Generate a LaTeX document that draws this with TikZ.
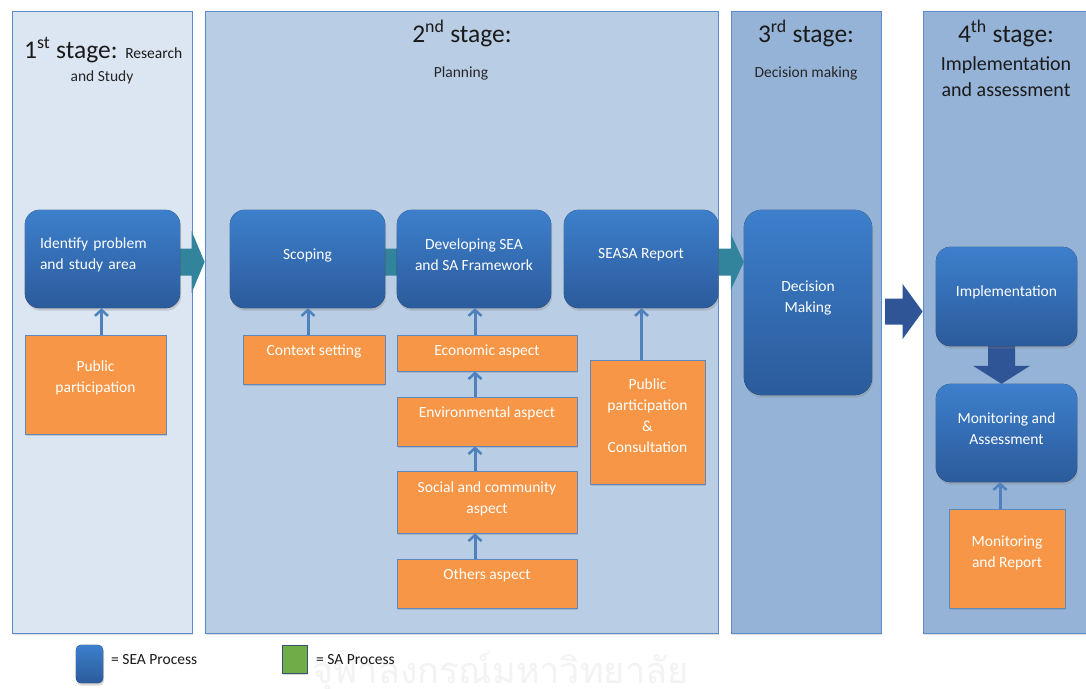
\documentclass[tikz,border=0pt]{standalone}
\usepackage{fontspec}
\setmainfont{Carlito}
\newfontfamily\thaifont[Script=Thai]{Loma}
\usetikzlibrary{arrows.meta,calc,shadows}

\definecolor{stA}{HTML}{DCE6F2}
\definecolor{stB}{HTML}{B9CDE5}
\definecolor{stC}{HTML}{95B3D7}
\definecolor{panelline}{HTML}{5B8BC9}
\definecolor{bluetop}{HTML}{3D7FCC}
\definecolor{bluebot}{HTML}{2B5B9B}
\definecolor{orangefill}{HTML}{F79646}
\definecolor{orangeline}{HTML}{5E88C0}
\definecolor{tealarrow}{HTML}{31849B}
\definecolor{darkarrow}{HTML}{2F5597}
\definecolor{linkblue}{HTML}{4F81BD}
\definecolor{sagreen}{HTML}{70AD47}
\definecolor{headtext}{HTML}{1A1A1A}
\definecolor{subtext}{HTML}{262626}
\definecolor{watermark}{HTML}{F3F3F3}

% horizontal block arrow: style, start point, tip point, shaft half, head half, head length
\newcommand\hchev[6]{%
  \fill[#1] let \p1=#2, \p2=#3 in
    (\x1,\y2+#4) -- (\x2-#6,\y2+#4) -- (\x2-#6,\y2+#5) -- (\x2,\y2)
    -- (\x2-#6,\y2-#5) -- (\x2-#6,\y2-#4) -- (\x1,\y2-#4) -- cycle;}

\begin{document}
\begin{tikzpicture}[x=1pt,y=-1pt,
  panel/.style={draw=panelline, line width=0.8pt,
    drop shadow={opacity=0.25, shadow xshift=1pt, shadow yshift=-2pt}},
  bluebox/.style={top color=bluetop, bottom color=bluebot, draw=none,
    rounded corners=15pt,
    drop shadow={opacity=0.3, shadow xshift=1pt, shadow yshift=-2.5pt}},
  orangebox/.style={fill=orangefill, draw=orangeline, line width=0.8pt,
    drop shadow={opacity=0.3, shadow xshift=1pt, shadow yshift=-2pt}},
  boxtext/.style={text=white, align=center, inner sep=0pt,
    font=\fontsize{15.5}{21}\selectfont},
  headbig/.style={text=headtext, inner sep=0pt,
    font=\fontsize{25.5}{30}\selectfont},
  headsmall/.style={text=subtext, inner sep=0pt,
    font=\fontsize{15.5}{18}\selectfont},
  headmid/.style={text=headtext, inner sep=0pt, align=center,
    font=\fontsize{20}{26}\selectfont},
  link/.style={draw=linkblue, line width=3pt,
    -{Straight Barb[length=6pt,width=13pt,line width=2.5pt]}},
  chevteal/.style={fill=tealarrow},
  chevdark/.style={fill=darkarrow},
  legendtext/.style={text=headtext, anchor=west, inner sep=0pt,
    font=\fontsize{15.5}{18}\selectfont}
]
\useasboundingbox (0,0) rectangle (1086,688);
\fill[white] (0,0) rectangle (1086,688);

% faint watermark
\node[text=watermark, inner sep=0pt, anchor=west,
  font=\thaifont\fontsize{36}{36}\selectfont] (wmark) at (312,672) {จุฬาลงกรณ์มหาวิทยาลัย};

% stage panels
\node[panel, fill=stA, minimum width=180pt, minimum height=622pt] (st1) at (102,322) {};
\node[panel, fill=stB, minimum width=513pt, minimum height=622pt] (st2) at (461.5,322) {};
\node[panel, fill=stC, minimum width=150pt, minimum height=622pt] (st3) at (806,322) {};
\node[panel, fill=stC, minimum width=163pt, minimum height=622pt] (st4) at (1004.5,322) {};

% stage headings
\node[headbig, anchor=base west] (h1) at (24,58)
  {1\textsuperscript{st} stage: {\fontsize{15.5}{18}\selectfont Research}};
\node[headsmall, anchor=base] (h1b) at (102,81) {and Study};
\node[headbig, anchor=base] (h2) at (462,42) {2\textsuperscript{nd} stage:};
\node[headsmall, anchor=base] (h2b) at (461,77) {Planning};
\node[headbig, anchor=base] (h3) at (806,42) {3\textsuperscript{rd} stage:};
\node[headsmall, anchor=base] (h3b) at (806,77) {Decision making};
\node[headbig, anchor=base] (h4) at (1006,42) {4\textsuperscript{th} stage:};
\node[headmid, anchor=base] (h4b) at (1006,70) {Implementation};
\node[headmid, anchor=base] (h4c) at (1006,96) {and assessment};

% boxes are named first so the block arrows can refer to them
\path (102.5,259) node[minimum width=155pt, minimum height=98pt] (ident) {}
      (307.5,259) node[minimum width=155pt, minimum height=98pt] (scop) {}
      (474,259)   node[minimum width=154pt, minimum height=98pt] (dev) {}
      (641,259)   node[minimum width=154pt, minimum height=98pt] (seasa) {}
      (808,302.5) node[minimum width=128pt, minimum height=185pt] (dec) {}
      (1006.5,296.5) node[minimum width=141pt, minimum height=99pt] (impl) {}
      (1006.5,433) node[minimum width=141pt, minimum height=98pt] (mon) {};

% block arrows between process steps
\hchev{chevteal}{(ident.east)}{($(st2.west |- ident.east)+(0,3)$)}{13.5pt}{31pt}{13pt}
\hchev{chevteal}{(scop.east)}{($(dev.west |- scop.east)+(13,3)$)}{13.5pt}{31pt}{13pt}
\hchev{chevteal}{(seasa.east)}{($(dec.west |- seasa.east)+(0,3)$)}{13.5pt}{28pt}{13pt}
\hchev{chevdark}{($(dec.east)+(13,0)$)}{($(st4.west |- dec.east)+(0,9)$)}{13pt}{27.5pt}{20pt}
\fill[chevdark] let \p1=($(impl.south)+(-5,0)$), \p2=($(mon.north)+(-5,0)$) in
  (\x1-13.5pt,\y1) -- (\x1+13.5pt,\y1) -- (\x1+13.5pt,\y2+18pt) -- (\x1+28.5pt,\y2+18pt)
  -- (\x1,\y2) -- (\x1-28.5pt,\y2+18pt) -- (\x1-13.5pt,\y2+18pt) -- cycle;

% SEA process boxes
\foreach \n in {ident,scop,dev,seasa,impl,mon}
  \fill[bluebox] (\n.south west) rectangle (\n.north east);
\fill[bluebox, rounded corners=18pt] (dec.south west) rectangle (dec.north east);

\node[boxtext, text width=125pt, align=left] (identT) at (102.5,255) {Identify problem\\and study area};
\node[boxtext] (scopT) at (307.5,255) {Scoping};
\node[boxtext] (devT) at (474,255) {Developing SEA\\and SA Framework};
\node[boxtext] (seasaT) at (641,255) {SEASA Report};
\node[boxtext] (decT) at (808,298) {Decision\\Making};
\node[boxtext] (implT) at (1006.5,292) {Implementation};
\node[boxtext] (monT) at (1006.5,429) {Monitoring and\\Assessment};

% input boxes
\node[orangebox, minimum width=141pt, minimum height=99pt] (pp1) at (95.5,384.5) {};
\node[orangebox, minimum width=142pt, minimum height=49pt] (ctx) at (314,359.5) {};
\node[orangebox, minimum width=180pt, minimum height=36pt] (eco) at (487,353) {};
\node[orangebox, minimum width=180pt, minimum height=49pt] (env) at (487,421.5) {};
\node[orangebox, minimum width=180pt, minimum height=62pt] (soc) at (487,502) {};
\node[orangebox, minimum width=180pt, minimum height=49pt] (oth) at (487,583.5) {};
\node[orangebox, minimum width=115pt, minimum height=124pt] (pp2) at (647.5,422) {};
\node[orangebox, minimum width=116pt, minimum height=99pt] (mrep) at (1007,558.5) {};

\node[boxtext] (pp1T) at (95.5,378) {Public\\participation};
\node[boxtext] (ctxT) at (314,351) {Context setting};
\node[boxtext] (ecoT) at (487,351) {Economic aspect};
\node[boxtext] (envT) at (487,413) {Environmental aspect};
\node[boxtext] (socT) at (487,499) {Social and community\\aspect};
\node[boxtext] (othT) at (487,575) {Others aspect};
\node[boxtext] (pp2T) at (647.5,416) {Public\\participation\\\&\\Consultation};
\node[boxtext] (mrepT) at (1007,553) {Monitoring\\and Report};

% input links
\draw[link] ([xshift=6pt]pp1.north) -- ([xshift=-1pt]ident.south);
\draw[link] ([xshift=-6pt]ctx.north) -- ([xshift=0.5pt]scop.south);
\draw[link] ([xshift=-12pt]eco.north) -- ([xshift=1pt]dev.south);
\draw[link] ([xshift=-12pt]env.north) -- ([xshift=-12pt]eco.south);
\draw[link] ([xshift=-12pt]soc.north) -- ([xshift=-12pt]env.south);
\draw[link] ([xshift=-12pt]oth.north) -- ([xshift=-12pt]soc.south);
\draw[link] ([xshift=-6pt]pp2.north) -- ([xshift=0.5pt]seasa.south);
\draw[link] ([xshift=-7pt]mrep.north) -- ([xshift=-6.5pt]mon.south);

% legend
\node[minimum width=27pt, minimum height=38pt] (legSEA) at (89.5,664) {};
\fill[bluebox, rounded corners=5pt] (legSEA.south west) rectangle (legSEA.north east);
\node[legendtext] (legSEAT) at (111,660) {= SEA Process};
\node[fill=sagreen, draw=orangeline!60!black, line width=0.6pt,
  minimum width=25pt, minimum height=28pt,
  drop shadow={opacity=0.3, shadow xshift=1pt, shadow yshift=-2pt}] (legSA) at (294.5,659) {};
\node[legendtext] (legSAT) at (316,660) {= SA Process};
\end{tikzpicture}
\end{document}
